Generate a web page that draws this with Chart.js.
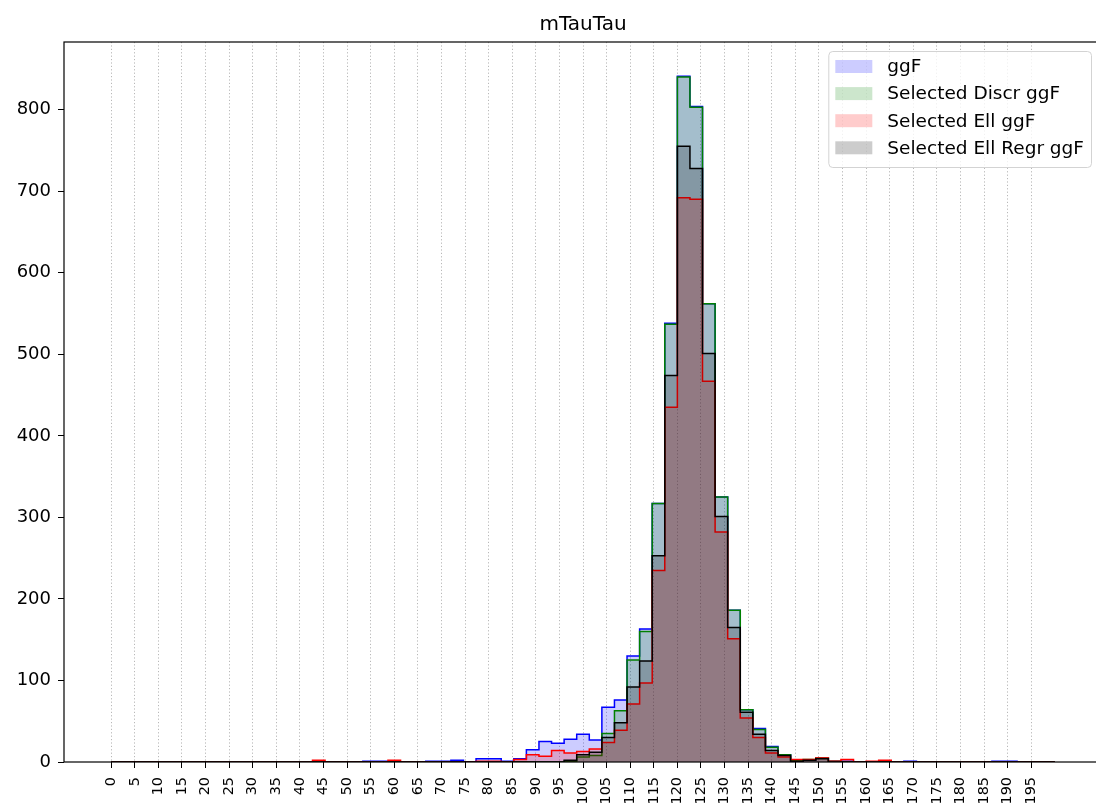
<!DOCTYPE html>
<html lang="en">
<head>
    <meta charset="UTF-8">
    <title>mTauTau</title>
    <script src="https://cdn.jsdelivr.net/npm/chart.js"></script>
    <style>
        body { margin: 0; overflow: hidden; background: #fff; }
    </style>
</head>
<body>
    <canvas id="mTauTau" width="1110" height="804"></canvas>

    <script>
        // histogram binning: 75 equal bins over 0..200
        const binLow = 0;
        const binHigh = 200;
        const nBins = 75;

        // counts per bin
        const ggF = [
            0, 0, 0, 0, 0, 0, 0, 0, 0, 0, 0, 0, 0, 0, 0,
            0, 0, 0, 0, 0, 1, 1, 0, 0, 0, 1, 1, 2, 0, 4,
            4, 1, 4, 15, 25, 23, 28, 34, 27, 67, 76, 130, 163, 317, 538,
            841, 804, 562, 325, 186, 64, 41, 19, 9, 2, 2, 5, 1, 1, 0,
            0, 0, 0, 1, 0, 0, 0, 0, 0, 0, 1, 1, 0, 0, 0
        ];
        const selDiscr = [
            0, 0, 0, 0, 0, 0, 0, 0, 0, 0, 0, 0, 0, 0, 0,
            0, 0, 0, 0, 0, 0, 0, 0, 0, 0, 0, 0, 0, 0, 0,
            0, 0, 0, 0, 0, 0, 1, 6, 8, 35, 63, 125, 160, 317, 537,
            840, 803, 562, 325, 186, 64, 40, 18, 9, 2, 3, 5, 1, 0, 0,
            0, 0, 0, 0, 0, 0, 0, 0, 0, 0, 0, 0, 0, 0, 0
        ];
        const selEll = [
            0, 0, 0, 0, 0, 0, 0, 0, 0, 0, 0, 0, 0, 0, 0,
            0, 2, 0, 0, 0, 0, 0, 2, 0, 0, 0, 0, 0, 0, 1,
            1, 0, 3, 9, 7, 14, 11, 13, 16, 24, 39, 71, 97, 235, 435,
            692, 690, 467, 282, 151, 54, 30, 11, 6, 3, 3, 5, 1, 3, 0,
            1, 2, 0, 0, 0, 0, 0, 0, 0, 0, 0, 0, 0, 0, 0
        ];
        const selEllRegr = [
            0, 0, 0, 0, 0, 0, 0, 0, 0, 0, 0, 0, 0, 0, 0,
            0, 0, 0, 0, 0, 0, 0, 0, 0, 0, 0, 0, 0, 0, 0,
            0, 0, 0, 0, 0, 0, 2, 9, 12, 30, 48, 92, 124, 253, 474,
            755, 728, 501, 301, 165, 61, 34, 14, 8, 1, 2, 4, 0, 0, 0,
            0, 0, 0, 0, 0, 0, 0, 0, 0, 0, 0, 0, 0, 0, 0
        ];

        const seriesLabels = ['ggF', 'Selected Discr ggF', 'Selected Ell ggF', 'Selected Ell Regr ggF'];

        // axis ticks
        const xTicks = [0, 5, 10, 15, 20, 25, 30, 35, 40, 45, 50, 55, 60, 65, 70, 75, 80, 85, 90, 95,
                        100, 105, 110, 115, 120, 125, 130, 135, 140, 145, 150, 155, 160, 165, 170, 175, 180, 185, 190, 195];
        const yTicks = [0, 100, 200, 300, 400, 500, 600, 700, 800];

        const binWidth = (binHigh - binLow) / nBins;
        const binEdges = [];
        for (let i = 0; i <= nBins; i++) binEdges.push(binLow + i * binWidth);

        // outline of a histogram as step points, closed down to zero at both ends
        function stepPoints(counts) {
            const pts = [{x: binEdges[0], y: 0}];
            counts.forEach((c, i) => pts.push({x: binEdges[i], y: c}));
            pts.push({x: binEdges[nBins], y: 0});
            return pts;
        }

        function histSet(label, counts, rgb, order) {
            return {
                label: label,
                data: stepPoints(counts),
                stepped: true,
                fill: 'origin',
                borderColor: 'rgb(' + rgb + ')',
                backgroundColor: 'rgba(' + rgb + ',0.2)',
                borderWidth: 1.5,
                pointRadius: 0,
                order: order
            };
        }

        // plain box around the axes
        const frame = {
            id: 'frame',
            afterDraw(chart) {
                const {ctx, chartArea: a} = chart;
                ctx.save();
                ctx.strokeStyle = '#000';
                ctx.lineWidth = 1.2;
                ctx.strokeRect(a.left, a.top, a.right - a.left, a.bottom - a.top);
                ctx.restore();
            }
        };

        // legend drawn inside the plot, upper right
        const boxLegend = {
            id: 'boxLegend',
            afterDraw(chart) {
                const {ctx, chartArea} = chart;
                const sets = chart.data.datasets;
                ctx.save();
                ctx.font = '18.5px "DejaVu Sans"';
                const textW = Math.max(...sets.map(d => ctx.measureText(d.label).width));
                const w = 59 + textW + 7;
                const h = 116;
                const x = chartArea.right - 11 - w;
                const y = chartArea.top + 9;
                ctx.fillStyle = 'rgba(255,255,255,0.8)';
                ctx.strokeStyle = '#d3d3d3';
                ctx.lineWidth = 1;
                ctx.beginPath();
                ctx.roundRect(x + 0.5, y + 0.5, w, h, 4);
                ctx.fill();
                ctx.stroke();
                ctx.textBaseline = 'middle';
                sets.forEach((d, i) => {
                    const cy = y + 15.5 + i * 27.1;
                    ctx.fillStyle = d.backgroundColor;
                    ctx.fillRect(x + 7, cy - 6.5, 37, 13);
                    ctx.fillStyle = '#000';
                    ctx.fillText(d.label, x + 59, cy + 1);
                });
                ctx.restore();
            }
        };

        Chart.defaults.font.family = '"DejaVu Sans", sans-serif';
        Chart.defaults.color = '#000';

        new Chart(document.getElementById('mTauTau'), {
            type: 'line',
            data: {
                datasets: [
                    histSet(seriesLabels[0], ggF, '0,0,255', 4),
                    histSet(seriesLabels[1], selDiscr, '0,128,0', 3),
                    histSet(seriesLabels[2], selEll, '255,0,0', 2),
                    histSet(seriesLabels[3], selEllRegr, '0,0,0', 1)
                ]
            },
            options: {
                responsive: false,
                animation: false,
                layout: { padding: { left: 0, right: 8, top: 0, bottom: 0 } },
                plugins: {
                    legend: { display: false },
                    tooltip: { enabled: false },
                    title: {
                        display: true,
                        text: 'mTauTau',
                        fullSize: false,
                        font: { size: 20, weight: 'normal' },
                        color: '#000',
                        padding: { top: 13, bottom: 5 }
                    }
                },
                scales: {
                    x: {
                        type: 'linear',
                        min: -10,
                        max: 210,
                        z: 1,
                        afterBuildTicks: s => { s.ticks = xTicks.map(v => ({value: v})); },
                        afterFit: s => { s.height = 42; },
                        border: { display: false, dash: [1.2, 2.2] },
                        grid: {
                            color: '#b8b8b8',
                            lineWidth: 1,
                            drawTicks: true,
                            tickLength: 6,
                            tickColor: '#000',
                            tickWidth: 1,
                            tickBorderDash: []
                        },
                        ticks: {
                            autoSkip: false,
                            minRotation: 90,
                            maxRotation: 90,
                            padding: 9,
                            font: { size: 14.4 }
                        }
                    },
                    y: {
                        min: 0,
                        max: 883,
                        afterBuildTicks: s => { s.ticks = yTicks.map(v => ({value: v})); },
                        afterFit: s => { s.width = 64; },
                        border: { display: false },
                        grid: {
                            drawOnChartArea: false,
                            drawTicks: true,
                            tickLength: 6,
                            tickColor: '#000',
                            tickWidth: 1
                        },
                        ticks: {
                            padding: 7,
                            font: { size: 18 }
                        }
                    }
                }
            },
            plugins: [frame, boxLegend]
        });
    </script>
</body>
</html>
